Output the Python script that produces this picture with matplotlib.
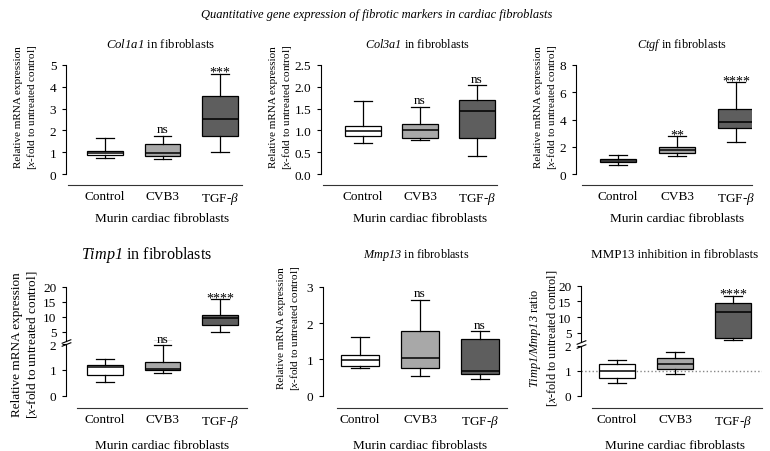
import matplotlib
matplotlib.use('Agg')
import matplotlib.pyplot as plt

plt.rcParams['font.family'] = 'Liberation Serif'
plt.rcParams['mathtext.fontset'] = 'custom'
plt.rcParams['mathtext.rm'] = 'Liberation Serif'
plt.rcParams['mathtext.it'] = 'Liberation Serif:italic'
plt.rcParams['mathtext.bf'] = 'Liberation Serif:bold'
# sf slot used for fully italic gene names (digits included)
plt.rcParams['mathtext.sf'] = 'Liberation Serif:italic'

groups = ['Control', 'CVB3', r'TGF-$\beta$']
colors = ['white', '#a8a8a8', '#5e5e5e']

# whisker low, Q1, median, Q3, whisker high
col1a1 = [[0.75, 0.87, 0.96, 1.07, 1.64], [0.69, 0.83, 0.96, 1.36, 1.76], [0.99, 1.76, 2.51, 3.59, 4.59]]
col3a1 = [[0.70, 0.88, 0.99, 1.09, 1.67], [0.78, 0.83, 1.01, 1.15, 1.54], [0.42, 0.83, 1.45, 1.70, 2.03]]
ctgf = [[0.64, 0.86, 0.98, 1.10, 1.42], [1.30, 1.52, 1.78, 2.00, 2.76], [2.32, 3.35, 3.84, 4.77, 6.72]]
timp1 = [[0.52, 0.82, 1.10, 1.21, 1.44], [0.87, 0.99, 1.02, 1.32, 1.97], [4.9, 7.4, 9.7, 10.6, 15.9]]
mmp13 = [[0.75, 0.83, 0.99, 1.12, 1.61], [0.54, 0.75, 1.03, 1.78, 2.64], [0.45, 0.59, 0.69, 1.56, 1.77]]
ratio = [[0.51, 0.70, 1.00, 1.26, 1.43], [0.85, 1.05, 1.26, 1.49, 1.74], [2.7, 3.5, 11.6, 14.4, 16.8]]

sig_col1a1 = ['', 'ns', '***']
sig_col3a1 = ['', 'ns', 'ns']
sig_ctgf = ['', '**', '****']
sig_timp1 = ['', 'ns', '****']
sig_mmp13 = ['', 'ns', 'ns']
sig_ratio = ['', '', '****']

ylab = 'Relative mRNA expression\n[$x$-fold to untreated control]'
ylab_ratio = r'$\mathsf{Timp1/Mmp13}$ ratio' + '\n[$x$-fold to untreated control]'

W, H = 770, 452
fig = plt.figure(figsize=(W / 100, H / 100), dpi=100)


def rect(l, r, top, bot):
    return [l / W, 1 - bot / H, (r - l) / W, (bot - top) / H]


def setup(ax, A, L, R, C0, S, ylim, ticks, bottom=True, off=8):
    ax.set_xlim((A - C0) / S, (R - C0) / S)
    ax.set_ylim(*ylim)
    ax.set_facecolor('none')
    for s in ['top', 'right']:
        ax.spines[s].set_visible(False)
    ax.spines['left'].set_bounds(ylim[0], ylim[1])
    ax.spines['left'].set_linewidth(0.8)
    ax.set_yticks(ticks)
    ax.tick_params(axis='y', direction='out', length=3, width=0.8, pad=4, labelsize=9.5)
    if bottom:
        ax.spines['bottom'].set_position(('outward', off))
        ax.spines['bottom'].set_bounds((L - C0) / S, (R - C0) / S)
        ax.spines['bottom'].set_color('#333333')
        ax.spines['bottom'].set_linewidth(0.8)
        ax.set_xticks([0, 1, 2])
        ax.set_xticklabels(groups)
        ax.tick_params(axis='x', length=0, pad=3.5, labelsize=9.5)
    else:
        ax.spines['bottom'].set_visible(False)
        ax.set_xticks([])


def boxes(ax, stats):
    bx = [dict(whislo=s[0], q1=s[1], med=s[2], q3=s[3], whishi=s[4]) for s in stats]
    art = ax.bxp(bx, positions=[0, 1, 2], widths=0.62, capwidths=0.3, showfliers=False,
                 patch_artist=True,
                 boxprops=dict(edgecolor='black', linewidth=0.9),
                 medianprops=dict(color='black', linewidth=1.1),
                 whiskerprops=dict(color='black', linewidth=0.9),
                 capprops=dict(color='black', linewidth=0.9))
    for p, c in zip(art['boxes'], colors):
        p.set_facecolor(c)


def mark(ax, i, y, txt):
    if not txt:
        return
    if txt == 'ns':
        ax.annotate(txt, xy=(i, y), xytext=(0, 2.5), textcoords='offset points',
                    ha='center', va='baseline', fontsize=9.5, annotation_clip=False)
    else:
        ax.annotate(txt, xy=(i, y), xytext=(0, -1.5), textcoords='offset points',
                    ha='center', va='baseline', fontsize=10, annotation_clip=False)


def xlab(ax, txt, dy):
    ax.annotate(txt, xy=(1, 0), xycoords=('data', 'axes fraction'), xytext=(0, -dy),
                textcoords='offset points', ha='center', va='center', fontsize=9.5,
                annotation_clip=False)


def brk(ax, y):
    ax.plot([0], [y], transform=ax.transAxes, marker=[(-1, -0.4), (1, 0.4)], markersize=7,
            linestyle='none', color='k', mec='k', mew=0.8, clip_on=False)


# ---- top row ----
top_panels = [
    (col1a1, sig_col1a1, (0, 5), [0, 1, 2, 3, 4, 5], 66, 68, 242, 105, 57.5,
     r'$\mathsf{Col1a1}$ in fibroblasts', 161, 9.2, 26.5),
    (col3a1, sig_col3a1, (0, 2.5), [0, 0.5, 1.0, 1.5, 2.0, 2.5], 321, 323, 497, 363, 57,
     r'$\mathsf{Col3a1}$ in fibroblasts', 417, 8.8, 281.5),
    (ctgf, sig_ctgf, (0, 8), [0, 2, 4, 6, 8], 576, 582, 752, 618, 59,
     r'$\mathsf{Ctgf}$ in fibroblasts', 682, 8.8, 546.5),
]
for data, sig, ylim, ticks, A, L, R, C0, S, title, tx, tfs, ylx in top_panels:
    ax = fig.add_axes(rect(A, R, 66, 175))
    boxes(ax, data)
    setup(ax, A, L, R, C0, S, ylim, ticks, off=7.9)
    if ylim[1] == 2.5:
        ax.set_yticklabels(['%.1f' % t for t in ticks])
    for i, s in enumerate(sig):
        mark(ax, i, data[i][4], s)
    xlab(ax, 'Murin cardiac fibroblasts', 32)
    fig.text(tx / W, 1 - 45 / H, title, ha='center', va='center', fontsize=tfs)
    fig.text(ylx / W, 1 - 107 / H, ylab, rotation=90, ha='center', va='center',
             fontsize=8, multialignment='center')

# ---- bottom row ----
# panel 4: Timp1, broken axis
A, L, R, C0, S = 66, 77, 247, 105, 57.5
lo = fig.add_axes(rect(A, R, 345.3, 396.7))
up = fig.add_axes(rect(A, R, 287.7, 341.7))
for ax in (lo, up):
    boxes(ax, timp1)
setup(lo, A, L, R, C0, S, (0, 2), [0, 1, 2], off=9.1)
setup(up, A, L, R, C0, S, (2, 20), [5, 10, 15, 20], bottom=False)
brk(up, 0)
brk(lo, 1)
mark(lo, 1, timp1[1][4], sig_timp1[1])
mark(up, 2, timp1[2][4], sig_timp1[2])
xlab(lo, 'Murin cardiac fibroblasts', 35.5)
fig.text(147 / W, 1 - 255.5 / H, r'$\mathsf{Timp1}$ in fibroblasts', ha='center', va='center', fontsize=11.6)
fig.text(25 / W, 1 - 345 / H, ylab, rotation=90, ha='center', va='center', fontsize=9.5,
         multialignment='center')

# panel 5: Mmp13
A, L, R, C0, S = 323, 337, 507, 360, 60
ax = fig.add_axes(rect(A, R, 287.7, 396.7))
boxes(ax, mmp13)
setup(ax, A, L, R, C0, S, (0, 3), [0, 1, 2, 3], off=9.1)
for i, s in enumerate(sig_mmp13):
    mark(ax, i, mmp13[i][4], s)
xlab(ax, 'Murin cardiac fibroblasts', 35.5)
fig.text(416 / W, 1 - 255.5 / H, r'$\mathsf{Mmp13}$ in fibroblasts', ha='center', va='center', fontsize=8.8)
fig.text(290 / W, 1 - 328 / H, ylab, rotation=90, ha='center', va='center', fontsize=8,
         multialignment='center')

# panel 6: ratio, broken axis
A, L, R, C0, S = 581, 592, 762, 617, 58
lo = fig.add_axes(rect(A, R, 346.7, 396.7))
up = fig.add_axes(rect(A, R, 286.7, 343.3))
for ax in (lo, up):
    boxes(ax, ratio)
lo.axhline(1, color='#888888', linestyle=':', linewidth=1, zorder=0)
setup(lo, A, L, R, C0, S, (0, 2), [0, 1, 2], off=9.1)
setup(up, A, L, R, C0, S, (2, 20), [5, 10, 15, 20], bottom=False)
brk(up, 0)
brk(lo, 1)
mark(up, 2, ratio[2][4], sig_ratio[2])
xlab(lo, 'Murine cardiac fibroblasts', 35.5)
fig.text(675 / W, 1 - 255.5 / H, 'MMP13 inhibition in fibroblasts', ha='center', va='center', fontsize=9.4)
fig.text(543.5 / W, 1 - 338 / H, ylab_ratio, rotation=90, ha='center', va='center', fontsize=8.8,
         multialignment='center')

fig.text(377 / W, 1 - 15 / H, 'Quantitative gene expression of fibrotic markers in cardiac fibroblasts',
         ha='center', va='center', fontsize=9, style='italic')

fig.savefig('out.png', dpi=100)
